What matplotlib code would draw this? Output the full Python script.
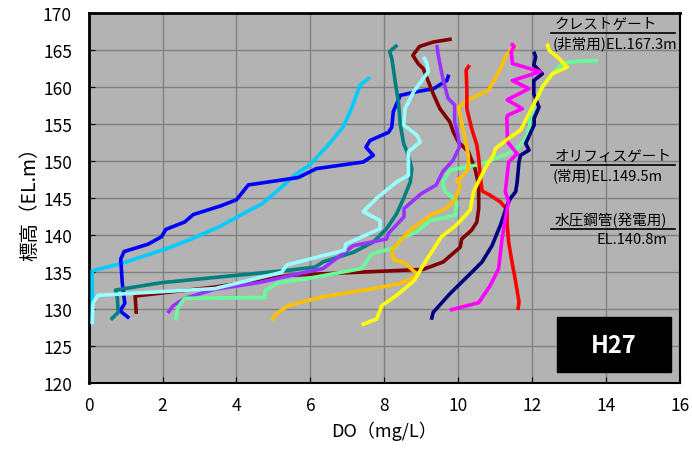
import numpy as np
import matplotlib
matplotlib.use('Agg')
import matplotlib.pyplot as plt
from matplotlib.patches import Rectangle

plt.rcParams['font.family'] = ['Noto Sans CJK JP', 'DejaVu Sans']

# DO (mg/L) and elevation (EL.m) for each profile
blue_x = [1.10, 0.85, 0.98, 0.91, 0.87, 0.96, 1.61, 1.97, 2.09, 2.60, 2.83, 3.59, 4.00, 4.32, 5.67,
          6.16, 7.43, 7.70, 7.50, 7.61, 8.11, 8.20, 8.24, 8.43, 8.88, 9.33, 9.69, 9.74]
blue_y = [128.8, 129.8, 130.8, 133.6, 136.8, 137.8, 138.8, 139.8, 140.8, 141.8, 142.8, 144.0, 144.8, 146.8, 147.8,
          149.0, 149.9, 150.8, 151.9, 152.8, 153.9, 154.6, 156.7, 158.9, 159.4, 159.8, 160.9, 161.7]

sky_x = [0.10, 0.10, 0.89, 2.11, 2.78, 3.59, 4.32, 4.68, 5.22, 5.62, 5.98, 6.52, 6.88, 7.11, 7.34, 7.61]
sky_y = [128.0, 135.2, 136.2, 138.2, 139.5, 141.3, 143.3, 144.2, 146.5, 148.3, 149.5, 152.4, 154.6, 157.1, 160.3, 161.3]

teal_x = [0.60, 0.80, 0.78, 0.73, 1.97, 5.44, 6.12, 6.34, 7.16, 7.70, 8.06, 8.33, 8.52, 8.70, 8.74,
          8.65, 8.52, 8.43, 8.38, 8.32, 8.20, 8.14, 8.35]
teal_y = [128.6, 129.6, 131.5, 132.6, 133.6, 135.3, 135.7, 136.4, 137.7, 139.1, 140.9, 142.9, 145.0, 147.2, 149.0,
          150.8, 152.4, 154.9, 158.0, 159.8, 163.9, 164.8, 165.7]

dred_x = [1.29, 1.26, 3.40, 5.44, 9.05, 9.59, 10.05, 10.09, 10.36, 10.50, 10.55, 10.55, 10.45, 10.27, 10.00, 9.86,
          9.77, 9.50, 9.32, 9.05, 8.91, 8.77, 8.95, 9.32, 9.82]
dred_y = [129.4, 131.8, 133.0, 134.6, 135.4, 136.4, 138.4, 139.5, 140.7, 141.8, 143.6, 146.8, 149.0, 151.3, 152.6, 154.0,
          155.3, 157.1, 159.1, 162.5, 163.2, 164.3, 165.5, 166.1, 166.5]

purple_x = [2.14, 2.29, 2.60, 3.41, 4.59, 5.85, 6.34, 7.16, 8.06, 8.10, 8.53, 8.53, 8.99, 9.40, 9.58,
            9.85, 10.03, 9.99, 9.90, 9.90, 9.72, 9.58, 9.49, 9.44, 9.42]
purple_y = [129.5, 130.5, 131.5, 132.7, 133.6, 135.0, 135.5, 138.6, 139.5, 140.2, 142.5, 143.6, 145.6, 146.8, 148.6,
            150.1, 151.9, 153.5, 155.3, 157.6, 158.5, 161.2, 163.4, 164.8, 165.7]

lcyan_x = [0.10, 0.12, 0.26, 3.41, 5.22, 5.36, 6.93, 6.95, 7.88, 7.88, 7.43, 7.79, 8.33, 8.65, 8.65,
           8.97, 8.88, 8.52, 8.56, 8.79, 9.19, 9.15, 9.06]
lcyan_y = [128.0, 130.9, 131.9, 132.8, 135.0, 136.0, 138.0, 138.8, 140.9, 142.0, 143.2, 145.0, 147.2, 148.1, 151.3,
           152.6, 153.5, 154.9, 157.1, 159.4, 162.1, 163.2, 164.1]

orange_x = [4.95, 5.08, 5.40, 5.85, 6.34, 7.70, 8.43, 8.92, 8.56, 8.24, 8.20, 8.70, 9.24, 9.65, 9.87,
            10.00, 10.05, 9.96, 10.14, 10.27, 10.27, 10.18, 10.00, 10.23, 10.82, 11.14, 11.27, 11.41, 11.59]
orange_y = [128.5, 129.4, 130.5, 131.1, 131.7, 132.8, 133.5, 134.6, 136.2, 136.8, 138.0, 140.7, 142.7, 143.6, 144.5,
            145.9, 146.8, 147.4, 148.1, 149.0, 150.8, 153.1, 157.3, 158.2, 159.6, 162.5, 164.1, 165.0, 165.5]

red_x = [11.61, 11.64, 11.55, 11.45, 11.36, 11.32, 11.32, 11.14, 10.86, 10.64, 10.59, 10.55, 10.50, 10.36, 10.23,
         10.23, 10.21, 10.30]
red_y = [129.9, 131.0, 133.7, 136.4, 139.1, 141.4, 143.4, 144.5, 145.4, 146.0, 148.1, 150.4, 152.2, 154.4, 157.1,
         159.8, 162.3, 163.0]

magenta_x = [9.77, 10.55, 10.86, 11.09, 11.18, 11.32, 11.36, 11.27, 11.32, 11.36, 11.59, 11.33, 11.31, 11.33, 11.73,
             11.32, 11.91, 11.46, 12.22, 11.46, 11.43, 11.51, 11.42]
magenta_y = [129.9, 130.9, 133.2, 135.5, 139.5, 143.6, 144.5, 145.9, 148.1, 149.9, 151.0, 152.6, 155.8, 156.2, 157.1,
             158.3, 159.8, 160.9, 162.1, 163.2, 164.8, 165.5, 165.9]

navy_x = [9.27, 9.32, 9.77, 10.36, 10.64, 10.91, 11.14, 11.32, 11.41, 11.55, 11.59, 11.64, 11.68, 11.91, 11.82,
          12.05, 12.05, 12.18, 12.04, 12.04, 12.27, 12.04, 12.09, 12.04]
navy_y = [128.6, 129.6, 132.1, 135.0, 136.4, 138.6, 141.4, 144.1, 145.0, 145.9, 147.2, 149.9, 150.8, 151.5, 152.4,
          154.9, 155.8, 157.3, 159.1, 160.9, 161.8, 163.0, 164.1, 164.8]

yellow_x = [7.38, 7.79, 7.93, 8.33, 8.81, 9.04, 9.54, 9.95, 10.32, 10.41, 10.77, 10.95, 11.00, 11.36, 11.68,
            11.91, 12.27, 12.54, 12.94, 12.72, 12.45, 12.40]
yellow_y = [127.9, 128.7, 130.5, 131.9, 133.9, 135.9, 139.8, 141.4, 143.4, 145.9, 149.5, 150.8, 151.7, 153.1, 154.2,
            156.4, 160.0, 161.8, 162.7, 163.9, 165.0, 165.9]

lgreen_x = [2.35, 2.42, 2.60, 4.77, 4.77, 5.13, 5.85, 7.38, 7.66, 8.33, 8.43, 8.88, 9.24, 9.92, 9.96,
            9.62, 9.58, 9.77, 10.50, 10.86, 11.32, 11.59, 11.82, 11.91, 11.95, 12.09, 12.27, 12.55, 12.77,
            12.99, 13.30, 13.77]
lgreen_y = [128.5, 130.3, 131.5, 131.6, 132.5, 133.6, 134.1, 135.5, 137.5, 138.4, 139.5, 140.5, 142.0, 142.7, 144.5,
            146.1, 147.2, 148.8, 149.5, 150.1, 151.0, 151.7, 153.1, 154.4, 156.0, 158.0, 160.0, 161.8, 163.0,
            163.4, 163.5, 163.6]

profiles = [
    (sky_x, sky_y, '#00CCFF'),
    (blue_x, blue_y, '#0000FF'),
    (teal_x, teal_y, '#008080'),
    (dred_x, dred_y, '#800000'),
    (purple_x, purple_y, '#9933FF'),
    (lcyan_x, lcyan_y, '#99FFFF'),
    (lgreen_x, lgreen_y, '#66FF99'),
    (orange_x, orange_y, '#FFC000'),
    (red_x, red_y, '#FF0000'),
    (navy_x, navy_y, '#000080'),
    (magenta_x, magenta_y, '#FF00FF'),
    (yellow_x, yellow_y, '#FFFF00'),
]

# gate levels
gates = [
    (167.3, 'クレストゲート', '(非常用)EL.167.3m', 'left'),
    (149.5, 'オリフィスゲート', '(常用)EL.149.5m', 'left'),
    (140.8, '水圧鋼管(発電用)', 'EL.140.8m', 'right'),
]

fig = plt.figure(figsize=(6.92, 4.56), dpi=100)
ax = fig.add_axes([0.128, 0.157, 0.855, 0.812])
ax.set_facecolor('#B3B3B3')

for xs, ys, c in profiles:
    ax.plot(xs, ys, color=c, lw=2.6, solid_joinstyle='round', solid_capstyle='butt', zorder=3)

for el, top, bottom, ha in gates:
    ax.plot([12.5, 15.85], [el, el], color='black', lw=1.2, zorder=4)
    ax.text(12.6, el + 1.3, top, fontsize=10.5, va='center', ha='left', zorder=5)
    if ha == 'left':
        ax.text(12.55, el - 1.3, bottom, fontsize=10.5, va='center', ha='left', zorder=5)
    else:
        ax.text(15.65, el - 1.3, bottom, fontsize=10.5, va='center', ha='right', zorder=5)

ax.add_patch(Rectangle((12.66, 121.5), 3.1, 7.45, facecolor='black', edgecolor='black', zorder=5))
ax.text(14.2, 125.2, 'H27', color='white', fontsize=17, fontweight='bold',
        ha='center', va='center', zorder=6)

ax.set_xlim(0, 16)
ax.set_ylim(120, 170)
ax.set_xticks(np.arange(0, 17, 2))
ax.set_yticks(np.arange(120, 171, 5))
ax.grid(True, color='#808080', lw=1)
ax.set_axisbelow(True)
ax.tick_params(direction='in', length=4, labelsize=12.5, pad=9)
ax.tick_params(axis='y', pad=12)
for s in ax.spines.values():
    s.set_color('black')
    s.set_linewidth(1.5)
ax.spines['left'].set_linewidth(2)
ax.spines['top'].set_linewidth(2)

ax.set_xlabel('DO（mg/L）', fontsize=13, labelpad=5)
ax.set_ylabel('標高（EL.m）', fontsize=14, labelpad=2)

fig.savefig('out.png', dpi=100)
